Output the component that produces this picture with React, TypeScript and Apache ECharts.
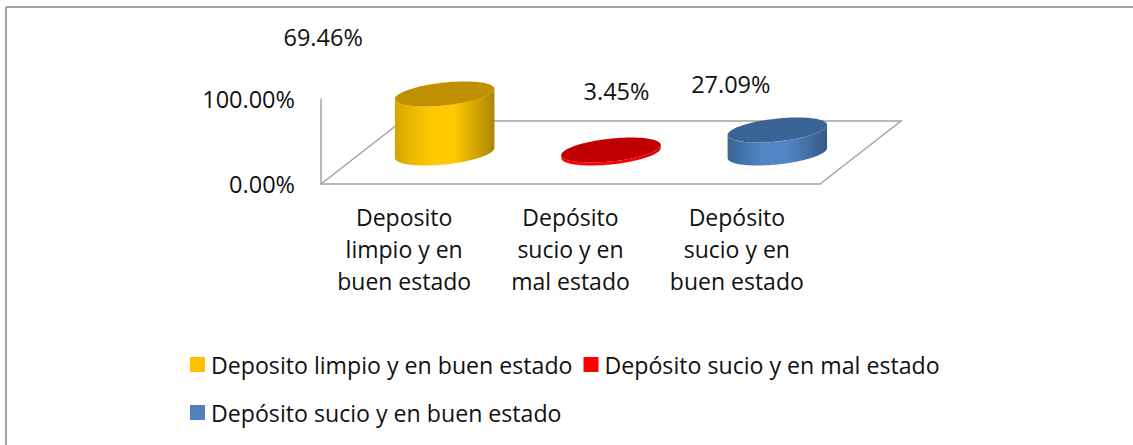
import React, { useEffect, useRef } from "react";
import * as echarts from "echarts";

const seriesNames = [
  "Deposito limpio y en buen estado",
  "Depósito sucio y en mal estado",
  "Depósito sucio y en buen estado",
];
const tickLabels = [
  "Deposito\nlimpio y en\nbuen estado",
  "Depósito\nsucio y en\nmal estado",
  "Depósito\nsucio y en\nbuen estado",
];
const values = [69.46, 3.45, 27.09];
const labelOffsets = [
  [-81, -88],
  [46, -90],
  [-6, -77],
];
const legendColors = ["#FFC000", "#FF0000", "#4F81BD"];
const topColors = ["#BF9000", "#C00000", "#3B6496"];
const sideStops = [
  ["#D6A600", "#FFC800", "#A98600"],
  ["#FF0000", "#FF0000", "#E00000"],
  ["#3A6494", "#5285C6", "#345A85"],
];

const FONT = "Open Sans";
const TEXT = "#111111";
const GREY = "#A3A3A3";
const DEPTH_X = 81;
const DEPTH_Y = -63;
const A = 50;
const B = 11.4;
const TILT = (-6.1 * Math.PI) / 180;

function ellipsePoint(cx: number, cy: number, t: number) {
  const px = A * Math.cos(t);
  const py = B * Math.sin(t);
  return [cx + px * Math.cos(TILT) - py * Math.sin(TILT), cy + px * Math.sin(TILT) + py * Math.cos(TILT)];
}

function cylinderItem(idx: number) {
  return (_params: any, api: any) => {
    const cat = api.value(0);
    const v = api.value(1);
    const base = api.coord([cat, 0]);
    const top = api.coord([cat, v]);
    const cx = base[0] + DEPTH_X / 2;
    const by = base[1] + DEPTH_Y / 2 + 0.5;
    const ty = top[1] + DEPTH_Y / 2 + 0.5;
    // tangent parameter of the extreme x of the tilted ellipse
    const t0 = Math.atan2(-B * Math.sin(TILT), A * Math.cos(TILT));
    const side: number[][] = [];
    const steps = 72;
    for (let s = 0; s <= steps; s++) side.push(ellipsePoint(cx, by, t0 + (Math.PI * s) / steps));
    for (let s = 0; s <= steps; s++) side.push(ellipsePoint(cx, ty, t0 + Math.PI - (Math.PI * s) / steps));
    const cap: number[][] = [];
    for (let s = 0; s < 144; s++) cap.push(ellipsePoint(cx, ty, (2 * Math.PI * s) / 144));
    const stops = sideStops[idx];
    return {
      type: "group",
      children: [
        {
          type: "polygon",
          shape: { points: side },
          style: {
            fill: new echarts.graphic.LinearGradient(0, 0, 1, 0, [
              { offset: 0, color: stops[0] },
              { offset: 0.35, color: stops[1] },
              { offset: 0.6, color: stops[1] },
              { offset: 1, color: stops[2] },
            ]),
          },
        },
        { type: "polygon", shape: { points: cap }, style: { fill: topColors[idx] } },
        {
          type: "text",
          style: {
            text: v.toFixed(2) + "%",
            x: base[0] + labelOffsets[idx][0],
            y: top[1] + labelOffsets[idx][1],
            fill: TEXT,
            font: `23.5px "${FONT}"`,
            align: "center",
            verticalAlign: "middle",
          },
        },
      ],
    };
  };
}

function floorItem(params: any, api: any) {
  const c = params.coordSys;
  const fx = c.x;
  const fy = c.y + c.height;
  const w = c.width;
  const style = { stroke: GREY, lineWidth: 1.5, fill: "none" };
  return {
    type: "polyline",
    shape: {
      points: [
        [fx, fy],
        [fx + DEPTH_X, fy + DEPTH_Y],
        [fx + w + DEPTH_X, fy + DEPTH_Y],
        [fx + w, fy],
      ],
    },
    style,
  };
}

export default function App() {
  const ref = useRef<HTMLDivElement>(null);
  useEffect(() => {
    const chart = echarts.init(ref.current!, undefined, { renderer: "svg" });
    const legendBase = {
      itemWidth: 15,
      itemHeight: 15,
      itemGap: 11,
      icon: "rect",
      selectedMode: false,
      itemStyle: { borderWidth: 0 },
      textStyle: { fontFamily: FONT, fontSize: 23.15, color: TEXT, padding: [0, 0, 0, 1] },
      padding: 0,
    };
    chart.setOption({
      animation: false,
      backgroundColor: "#fff",
      textStyle: { fontFamily: FONT },
      grid: { left: 321, top: 99, width: 499, height: 85, containLabel: false },
      xAxis: {
        type: "category",
        data: tickLabels,
        axisTick: { show: false },
        axisLine: { lineStyle: { color: GREY, width: 1.5 } },
        axisLabel: {
          interval: 0,
          margin: 17,
          fontFamily: FONT,
          fontSize: 23,
          lineHeight: 32,
          color: TEXT,
          align: "center",
        },
      },
      yAxis: {
        type: "value",
        min: 0,
        max: 100,
        interval: 100,
        splitLine: { show: false },
        axisTick: { show: false },
        axisLine: { show: true, lineStyle: { color: GREY, width: 1.5 } },
        axisLabel: {
          margin: 26,
          fontFamily: FONT,
          fontSize: 23.5,
          color: TEXT,
          formatter: (v: number) => v.toFixed(2) + "%",
        },
      },
      legend: [
        { ...legendBase, left: 190, top: 353, data: seriesNames.slice(0, 2) },
        { ...legendBase, left: 190, top: 401, data: seriesNames.slice(2) },
      ],
      graphic: [
        { type: "line", shape: { x1: 6, y1: 7, x2: 1133, y2: 7 }, style: { stroke: "#868686", lineWidth: 1.5 } },
        { type: "line", shape: { x1: 6, y1: 7, x2: 6, y2: 445 }, style: { stroke: "#868686", lineWidth: 1.5 } },
      ],
      series: [
        {
          type: "custom",
          name: "floor",
          coordinateSystem: "cartesian2d",
          clip: false,
          silent: true,
          z: 1,
          encode: { x: 0, y: 1 },
          data: [[0, 0]],
          renderItem: floorItem,
        },
        ...seriesNames.map((name, i) => ({
          type: "custom",
          name,
          coordinateSystem: "cartesian2d",
          clip: false,
          z: 2,
          encode: { x: 0, y: 1 },
          itemStyle: { color: legendColors[i] },
          data: [[i, values[i]]],
          renderItem: cylinderItem(i),
        })),
      ],
    });
    return () => chart.dispose();
  }, []);
  return <div ref={ref} style={{ position: "absolute", left: 0, top: 0, width: 1133, height: 445 }} />;
}
